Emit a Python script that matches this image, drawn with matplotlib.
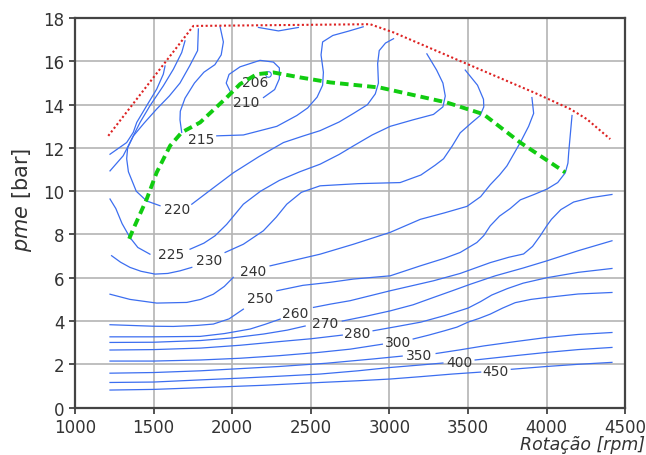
import numpy as np
import matplotlib.pyplot as plt

nan = np.nan

L206_x = [2230]
L206_y = [15.41]
L210_x = [1986, 1962, 1980, 2050, 2177, 2262, 2300, 2300, 2270, 2199]
L210_y = [14.64, 15.0, 15.4, 15.75, 16.05, 15.97, 15.7, 15.2, 14.7, 14.33]
L215_x = [1923, 1944, 1930, 1890, 1820, 1760, 1700, 1670, 1668, 1679, nan, 1902, 2071, 2284, 2411, 2480, 2540, 2575, 2580, 2565, 2575, 2640, 2740, 2833,
          nan, 2167, 2294, 2421]
L215_y = [17.6, 16.9, 16.3, 15.85, 15.5, 15.0, 14.3, 13.7, 13.3, 12.72, nan, 12.56, 12.6, 13.0, 13.5, 13.85, 14.35, 14.9, 15.5, 16.3, 16.9, 17.2, 17.4, 17.6,
          nan, 17.57, 17.41, 17.57]
L220_x = [1785, 1780, 1730, 1668, 1600, 1520, 1440, 1371, 1335, 1329, 1340, 1390, 1456, 1541, nan, 1743, 1870, 2007, 2170, 2326, 2450, 2559, 2680, 2772, 2860, 2910, 2930, 2925, 2935, 2975, 3026]
L220_y = [17.5, 16.5, 15.8, 15.0, 14.4, 13.8, 13.15, 12.55, 12.0, 11.5, 10.9, 10.0, 9.55, 9.33, nan, 9.4, 10.1, 10.85, 11.6, 12.25, 12.55, 12.8, 13.2, 13.6, 14.0, 14.5, 15.0, 15.9, 16.5, 16.85, 17.05]
L225_x = [1223, 1260, 1300, 1350, 1400, 1477, nan, 1732, 1820, 1891, 1965, 2071, 2180, 2300, 2430, 2559, 2680, 2772, 2890, 3005, 3150, 3280, 3340, 3355, 3340, 3300, 3238,
          nan, 1223, 1307, 1361, 1414, 1477, 1562, 1626, 1679, 1700]
L225_y = [9.64, 9.2, 8.5, 7.86, 7.4, 7.09, nan, 7.32, 7.6, 7.94, 8.47, 9.4, 10.0, 10.5, 10.9, 11.25, 11.7, 12.1, 12.6, 13.0, 13.3, 13.55, 13.9, 14.4, 15.0, 15.6, 16.35,
          nan, 10.94, 11.64, 12.41, 13.18, 13.95, 14.87, 15.64, 16.41, 16.95]
L230_x = [1233, 1290, 1350, 1420, 1509, 1590, 1668, 1743, nan, 1955, 2071, 2198, 2280, 2347, 2440, 2559, 2800, 3068, 3200, 3290, 3344, 3400, 3450, 3520, 3577, 3600, 3598, 3560, 3482,
          nan, 1223, 1329, 1371, 1393, 1456, 1520, 1562, 1573]
L230_y = [7.02, 6.72, 6.48, 6.3, 6.17, 6.2, 6.32, 6.48, nan, 7.17, 7.55, 8.17, 8.8, 9.4, 9.95, 10.25, 10.35, 10.4, 10.75, 11.2, 11.5, 12.1, 12.7, 13.15, 13.5, 13.9, 14.25, 14.9, 15.6,
          nan, 11.71, 12.25, 12.72, 13.18, 13.95, 14.72, 15.41, 15.79]
L240_x = [1223, 1350, 1520, 1711, 1800, 1880, 1950, 2007, nan, 2241, 2400, 2559, 2771, 3005, 3196, 3350, 3493, 3580, 3641, 3700, 3747, 3832, 3885, 3917, 3906]
L240_y = [5.24, 5.0, 4.83, 4.86, 5.0, 5.24, 5.6, 6.02, nan, 6.55, 6.82, 7.09, 7.55, 8.1, 8.7, 9.0, 9.3, 9.75, 10.3, 10.75, 11.17, 12.25, 13.0, 13.6, 14.33]
L250_x = [1223, 1500, 1626, 1780, 1880, 1980, 2071, nan, 2284, 2450, 2623, 2771, 3005, 3196, 3350, 3450, 3556, 3600, 3641, 3700, 3768, 3832, 3920, 4002, 4070, 4118, 4135, 4140, 4161]
L250_y = [3.83, 3.76, 3.75, 3.8, 3.86, 4.1, 4.55, nan, 5.4, 5.65, 5.79, 5.94, 6.09, 6.55, 6.9, 7.17, 7.63, 7.95, 8.4, 8.85, 9.2, 9.6, 9.85, 10.1, 10.4, 10.85, 11.3, 11.8, 13.5]
L260_x = [1223, 1500, 1796, 1950, 2114, 2210, 2305, nan, 2517, 2623, 2750, 3005, 3280, 3450, 3641, 3760, 3853, 3910, 3959, 4000, 4030, 4090, 4171, 4280, 4415]
L260_y = [3.27, 3.27, 3.29, 3.42, 3.63, 3.85, 4.09, nan, 4.63, 4.78, 4.94, 5.4, 5.86, 6.2, 6.7, 6.95, 7.1, 7.45, 7.94, 8.4, 8.7, 9.15, 9.5, 9.7, 9.85]
L270_x = [1223, 1500, 1800, 2000, 2200, 2350, 2464, nan, 2700, 2850, 3005, 3150, 3280, 3400, 3514, 3673, 3850, 4000, 4200, 4415]
L270_y = [3.01, 3.02, 3.1, 3.22, 3.4, 3.58, 3.77, nan, 4.0, 4.22, 4.47, 4.75, 5.09, 5.4, 5.7, 6.09, 6.45, 6.78, 7.25, 7.71]
L280_x = [1223, 1500, 1800, 2050, 2300, 2500, 2700, nan, 2896, 3050, 3200, 3350, 3500, 3580, 3650, 3750, 3850, 4000, 4200, 4415]
L280_y = [2.66, 2.68, 2.75, 2.88, 3.05, 3.18, 3.35, nan, 3.55, 3.75, 3.95, 4.25, 4.6, 4.9, 5.2, 5.5, 5.75, 6.0, 6.25, 6.43]
L300_x = [1223, 1500, 1800, 2050, 2300, 2550, 2750, 2955, nan, 3151, 3250, 3350, 3430, 3500, 3570, 3641, 3720, 3800, 3900, 4000, 4200, 4415]
L300_y = [2.15, 2.15, 2.2, 2.28, 2.4, 2.55, 2.7, 2.93, nan, 3.17, 3.35, 3.55, 3.72, 3.95, 4.12, 4.32, 4.6, 4.85, 5.0, 5.09, 5.25, 5.32]
L350_x = [1223, 1500, 1800, 2050, 2300, 2600, 2900, 3081, nan, 3297, 3450, 3600, 3800, 4000, 4200, 4415]
L350_y = [1.59, 1.62, 1.7, 1.8, 1.9, 2.05, 2.25, 2.38, nan, 2.5, 2.67, 2.85, 3.05, 3.24, 3.38, 3.47]
L400_x = [1223, 1500, 1800, 2050, 2300, 2559, 2800, 3000, 3200, 3340, nan, 3545, 3800, 4000, 4200, 4415]
L400_y = [1.16, 1.18, 1.28, 1.36, 1.45, 1.55, 1.7, 1.85, 1.97, 2.06, nan, 2.2, 2.4, 2.55, 2.68, 2.78]
L450_x = [1223, 1500, 1800, 2200, 2559, 2800, 3005, 3200, 3400, 3580, nan, 3775, 4000, 4200, 4415]
L450_y = [0.81, 0.84, 0.92, 1.03, 1.16, 1.24, 1.32, 1.43, 1.55, 1.64, nan, 1.77, 1.9, 2.0, 2.09]

curvas = [(L210_x, L210_y), (L215_x, L215_y), (L220_x, L220_y), (L225_x, L225_y),
          (L230_x, L230_y), (L240_x, L240_y), (L250_x, L250_y), (L260_x, L260_y),
          (L270_x, L270_y), (L280_x, L280_y), (L300_x, L300_y), (L350_x, L350_y),
          (L400_x, L400_y), (L450_x, L450_y)]

# rotulos das curvas
rot_txt = ['206', '210', '215', '220', '225', '230', '240', '250', '260', '270', '280', '300', '350', '400', '450']
rot_x = [2146, 2092, 1800, 1650, 1614, 1855, 2135, 2177, 2400, 2591, 2793, 3052, 3186, 3443, 3676]
rot_y = [15.03, 14.13, 12.4, 9.2, 7.09, 6.8, 6.32, 5.05, 4.35, 3.89, 3.44, 3.01, 2.43, 2.12, 1.70]

# curva de plena carga e linha de minimo consumo
wot_x = [1212, 1753, 2877, 3026, 3472, 3917, 4150, 4256, 4404]
wot_y = [12.56, 17.64, 17.72, 17.34, 15.95, 14.57, 13.8, 13.33, 12.41]
min_x = [1345, 1371, 1456, 1520, 1605, 1679, 1796, 1965, 2050, 2156, 2262, 2432, 2623, 2941, 3365, 3598, 3832, 4118]
min_y = [7.8, 8.25, 9.63, 10.87, 12.1, 12.72, 13.18, 14.33, 14.95, 15.41, 15.49, 15.26, 15.03, 14.79, 14.1, 13.56, 12.25, 10.87]

azul = '#3c6ef0'

fig = plt.figure(figsize=(6.46, 4.56), dpi=100)
ax = fig.add_axes([0.116, 0.104, 0.852, 0.854])

for cx, cy in curvas:
    ax.plot(cx, cy, color=azul, lw=0.9, zorder=3)
ax.plot(L206_x, L206_y, 'o', ms=4, mfc='white', mec=azul, mew=0.8, zorder=3)

for t, x, y in zip(rot_txt, rot_x, rot_y):
    ax.text(x, y, t, ha='center', va='center', fontsize=10, color='#333333', zorder=4)

ax.plot(wot_x, wot_y, color='#dd2222', lw=1.5, ls=(0, (1, 1.2)), zorder=5)
ax.plot(min_x, min_y, color='#11cc11', lw=2.8, ls=(0, (2.2, 1.3)), zorder=5)

ax.set_xlim(1000, 4500)
ax.set_ylim(0, 18)
ax.set_xticks(range(1000, 4501, 500))
ax.set_yticks(range(0, 19, 2))
ax.grid(True, color='#b4b4b4', lw=1.2, zorder=0)
ax.set_axisbelow(True)
for s in ax.spines.values():
    s.set_linewidth(1.6)
    s.set_color('#444444')
ax.tick_params(labelsize=12, length=4, width=1.2, colors='#333333')

ax.set_ylabel('$pme$ [bar]', fontsize=15, color='#333333')
ax.yaxis.set_label_coords(-0.074, 0.535)
ax.set_xlabel('Rotação [rpm]', fontsize=12.5, style='italic', color='#333333', ha='right', va='top')
ax.xaxis.set_label_coords(1.036, -0.071)

fig.savefig('out.png', dpi=100)
